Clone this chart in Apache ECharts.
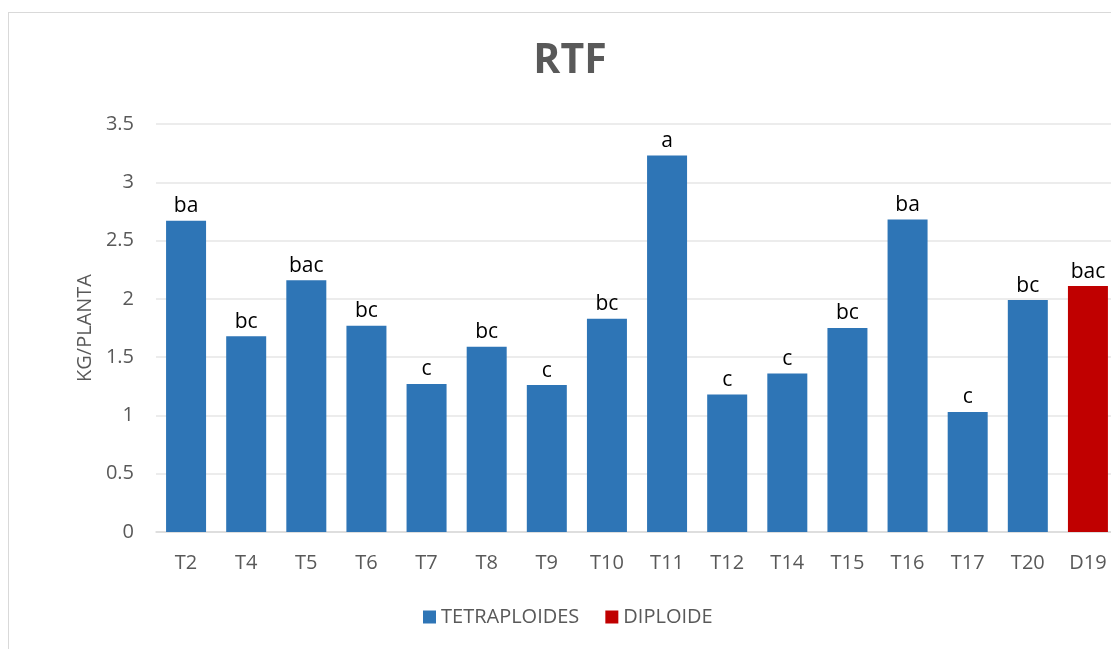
<!DOCTYPE html>
<html>
<head>
<meta charset="utf-8">
<script src="https://cdn.jsdelivr.net/npm/echarts@6/dist/echarts.min.js"></script>
<style>
  html, body { margin: 0; background: #fff; overflow: hidden; width: 1111px; height: 649px; }
  #frame { position: absolute; left: 8px; top: 12px; width: 1120px; height: 660px; border: 1px solid #d9d9d9; }
  #main { position: absolute; left: 0; top: 0; width: 1130px; height: 649px; }
</style>
</head>
<body>
<div id="frame"></div>
<div id="main"></div>
<script>
    // datos
    var categorias = ['T2', 'T4', 'T5', 'T6', 'T7', 'T8', 'T9', 'T10', 'T11', 'T12', 'T14', 'T15', 'T16', 'T17', 'T20', 'D19'];
    var tetraploides = [2.67, 1.68, 2.16, 1.77, 1.27, 1.59, 1.26, 1.83, 3.23, 1.18, 1.36, 1.75, 2.68, 1.03, 1.99, null];
    var diploide = [null, null, null, null, null, null, null, null, null, null, null, null, null, null, null, 2.11];
    var letras = ['ba', 'bc', 'bac', 'bc', 'c', 'bc', 'c', 'bc', 'a', 'c', 'c', 'bc', 'ba', 'c', 'bc', 'bac'];
    var yTicks = [0, 0.5, 1, 1.5, 2, 2.5, 3, 3.5];

    var myChart = echarts.init(document.getElementById('main'));
    var fuente = 'Open Sans, Liberation Sans, sans-serif';

    var etiqueta = {
        show: true,
        position: 'top',
        distance: 4,
        color: '#000',
        fontSize: 21,
        fontFamily: fuente,
        formatter: function (p) { return letras[p.dataIndex]; }
    };

    var option = {
        animation: false,
        backgroundColor: 'transparent',
        title: {
            text: 'RTF',
            left: 565,
            textAlign: 'center',
            top: 36,
            textStyle: { fontSize: 41, fontWeight: 'bold', color: '#595959', fontFamily: fuente }
        },
        legend: {
            data: ['TETRAPLOIDES', 'DIPLOIDE'],
            left: 418,
            bottom: 17,
            itemWidth: 13,
            itemHeight: 13,
            itemGap: 26,
            icon: 'rect',
            textStyle: { fontSize: 20, color: '#595959', fontFamily: fuente }
        },
        grid: {
            left: 156,
            top: 124,
            width: 962,
            height: 408,
            containLabel: false
        },
        xAxis: {
            type: 'category',
            data: categorias,
            axisLine: { lineStyle: { color: '#d9d9d9', width: 1.5 } },
            axisTick: { show: false },
            axisLabel: { color: '#595959', fontSize: 20, margin: 21, fontFamily: fuente }
        },
        yAxis: {
            type: 'value',
            min: yTicks[0],
            max: yTicks[yTicks.length - 1],
            interval: 0.5,
            name: 'KG/PLANTA',
            nameLocation: 'middle',
            nameGap: 57,
            nameRotate: 90,
            nameTextStyle: { color: '#595959', fontSize: 20, fontFamily: fuente },
            axisLabel: { color: '#595959', fontSize: 20, margin: 22, fontFamily: fuente },
            splitLine: { lineStyle: { color: '#e6e6e6', width: 1.5 } }
        },
        series: [{
            name: 'TETRAPLOIDES',
            type: 'bar',
            stack: 'todo',
            barWidth: 40,
            data: tetraploides,
            itemStyle: { color: '#2e75b6' },
            label: etiqueta
        }, {
            name: 'DIPLOIDE',
            type: 'bar',
            stack: 'todo',
            barWidth: 40,
            data: diploide,
            itemStyle: { color: '#c00000' },
            label: etiqueta
        }]
    };
    myChart.setOption(option);
</script>
</body>
</html>
